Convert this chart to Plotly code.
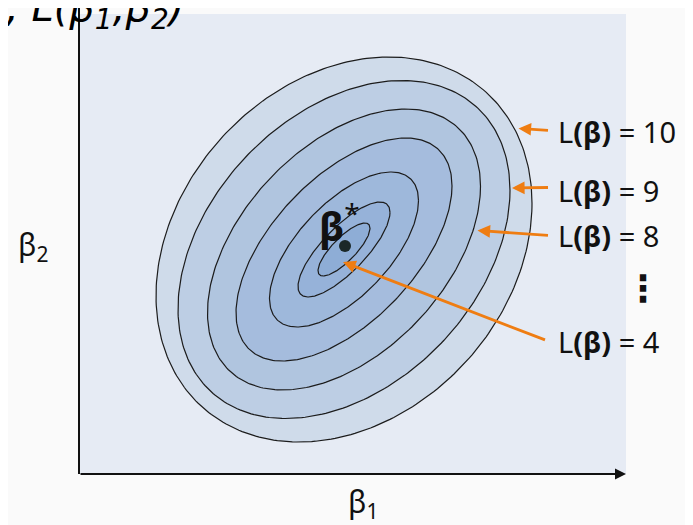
import numpy as np
import plotly.graph_objects as go

# contour levels, outermost last
levels = [4, 5, 6, 7, 8, 9, 10]
half_width = [0.52, 0.92, 1.49, 2.16, 2.73, 3.32, 3.76]
half_height = [0.53, 0.95, 1.55, 2.23, 2.81, 3.38, 3.85]
tilt_rho = [0.80, 0.78, 0.63, 0.57, 0.45, 0.35, 0.24]
band_colors = ["#8eadd6", "#96b2d9", "#9eb8db", "#a5bcdd", "#b0c5df", "#bdcee4", "#cfdbea"]

center_x, center_y = 5.30, 4.49
beta_star = (5.32, 4.56)

# labelled levels: arrow tip, arrow tail, label y (px)
labelled = ["10", "9", "8", "4"]
tips = [(8.79, 6.91), (8.66, 5.72), (7.97, 4.87), (5.28, 4.24)]
tails = [(9.41, 6.87), (9.41, 5.73), (9.41, 4.77), (9.35, 2.67)]
label_y = [124, 182, 227, 333]

W, H = 693, 525
ML, MR, MT, MB = 71, 75, 6, 59
PW, PH = W - ML - MR, H - MT - MB
X_MAX = PW / 50
Y_MAX = PH / 50


def px(x):
    return (x - ML) / PW


def py(y):
    return (H - MB - y) / PH


fig = go.Figure()

t = np.linspace(0, 2 * np.pi, 300)
for i in reversed(range(len(levels))):
    rho = tilt_rho[i]
    xs = center_x + half_width[i] * np.cos(t)
    ys = center_y + half_height[i] * (rho * np.cos(t) + np.sqrt(1 - rho ** 2) * np.sin(t))
    fig.add_trace(go.Scatter(
        x=xs, y=ys, mode="lines", fill="toself",
        fillcolor=band_colors[i],
        line=dict(color="#1c1c1c", width=1.2),
        hoverinfo="skip", showlegend=False,
    ))

fig.add_trace(go.Scatter(
    x=[beta_star[0]], y=[beta_star[1]], mode="markers",
    marker=dict(color="#1b2828", size=12),
    showlegend=False, hoverinfo="skip",
))

orange = "#ef7d12"
annotations = []
for lab, tip, tail, ly in zip(labelled, tips, tails, label_y):
    annotations.append(dict(
        x=tip[0], y=tip[1], ax=tail[0], ay=tail[1], xref="x", yref="y",
        axref="x", ayref="y", text="", showarrow=True,
        arrowhead=2, arrowsize=0.9, arrowwidth=2.8, arrowcolor=orange,
    ))
    annotations.append(dict(
        x=px(548), y=py(ly), xref="paper", yref="paper",
        xanchor="left", yanchor="middle",
        text="L<b>(β)</b> = " + lab, showarrow=False,
        font=dict(size=29, color="#111111", family="Noto Sans"),
    ))

annotations += [
    dict(x=px(635), y=py(280), xref="paper", yref="paper",
         xanchor="center", yanchor="middle", text="<b>⋮</b>", showarrow=False,
         font=dict(size=36, color="#111111", family="DejaVu Sans")),
    dict(x=beta_star[0] + 0.33, y=beta_star[1] + 0.46, xref="x", yref="y",
         xanchor="right", yanchor="middle", text="<b>β</b><sup>*</sup>",
         showarrow=False, font=dict(size=40, color="#111111", family="Noto Sans")),
    # axes
    dict(x=X_MAX, y=0, ax=0, ay=0, xref="x", yref="y", axref="x", ayref="y",
         text="", showarrow=True, arrowhead=2, arrowsize=1.1, arrowwidth=2,
         arrowcolor="#111111"),
    dict(x=px(355), y=py(495), xref="paper", yref="paper",
         xanchor="center", yanchor="middle", text="β<sub>1</sub>", showarrow=False,
         font=dict(size=30, color="#111111", family="Noto Sans")),
    dict(x=px(25), y=py(238), xref="paper", yref="paper",
         xanchor="center", yanchor="middle", text="β<sub>2</sub>", showarrow=False,
         font=dict(size=30, color="#111111", family="Noto Sans")),
    # cut-off handwritten note at the top
    dict(x=px(-4), y=py(2), xref="paper", yref="paper",
         xanchor="left", yanchor="middle", text="<i>, L(β<sub>1</sub>,β<sub>2</sub>)</i>",
         showarrow=False, font=dict(size=40, color="#000000", family="DejaVu Sans")),
]

fig.update_layout(
    width=W, height=H,
    margin=dict(l=ML, r=MR, t=MT, b=MB),
    paper_bgcolor="#fafafa", plot_bgcolor="#e6ebf4",
    xaxis=dict(range=[0, X_MAX], showgrid=False, zeroline=False, showticklabels=False, fixedrange=True),
    yaxis=dict(range=[0, Y_MAX], showgrid=False, zeroline=False, showticklabels=False, fixedrange=True),
    annotations=annotations,
    shapes=[dict(type="line", xref="paper", yref="paper", x0=0, x1=0, y0=0,
                 y1=py(0), line=dict(color="#111111", width=2))],
)

fig.write_html("out.html")
